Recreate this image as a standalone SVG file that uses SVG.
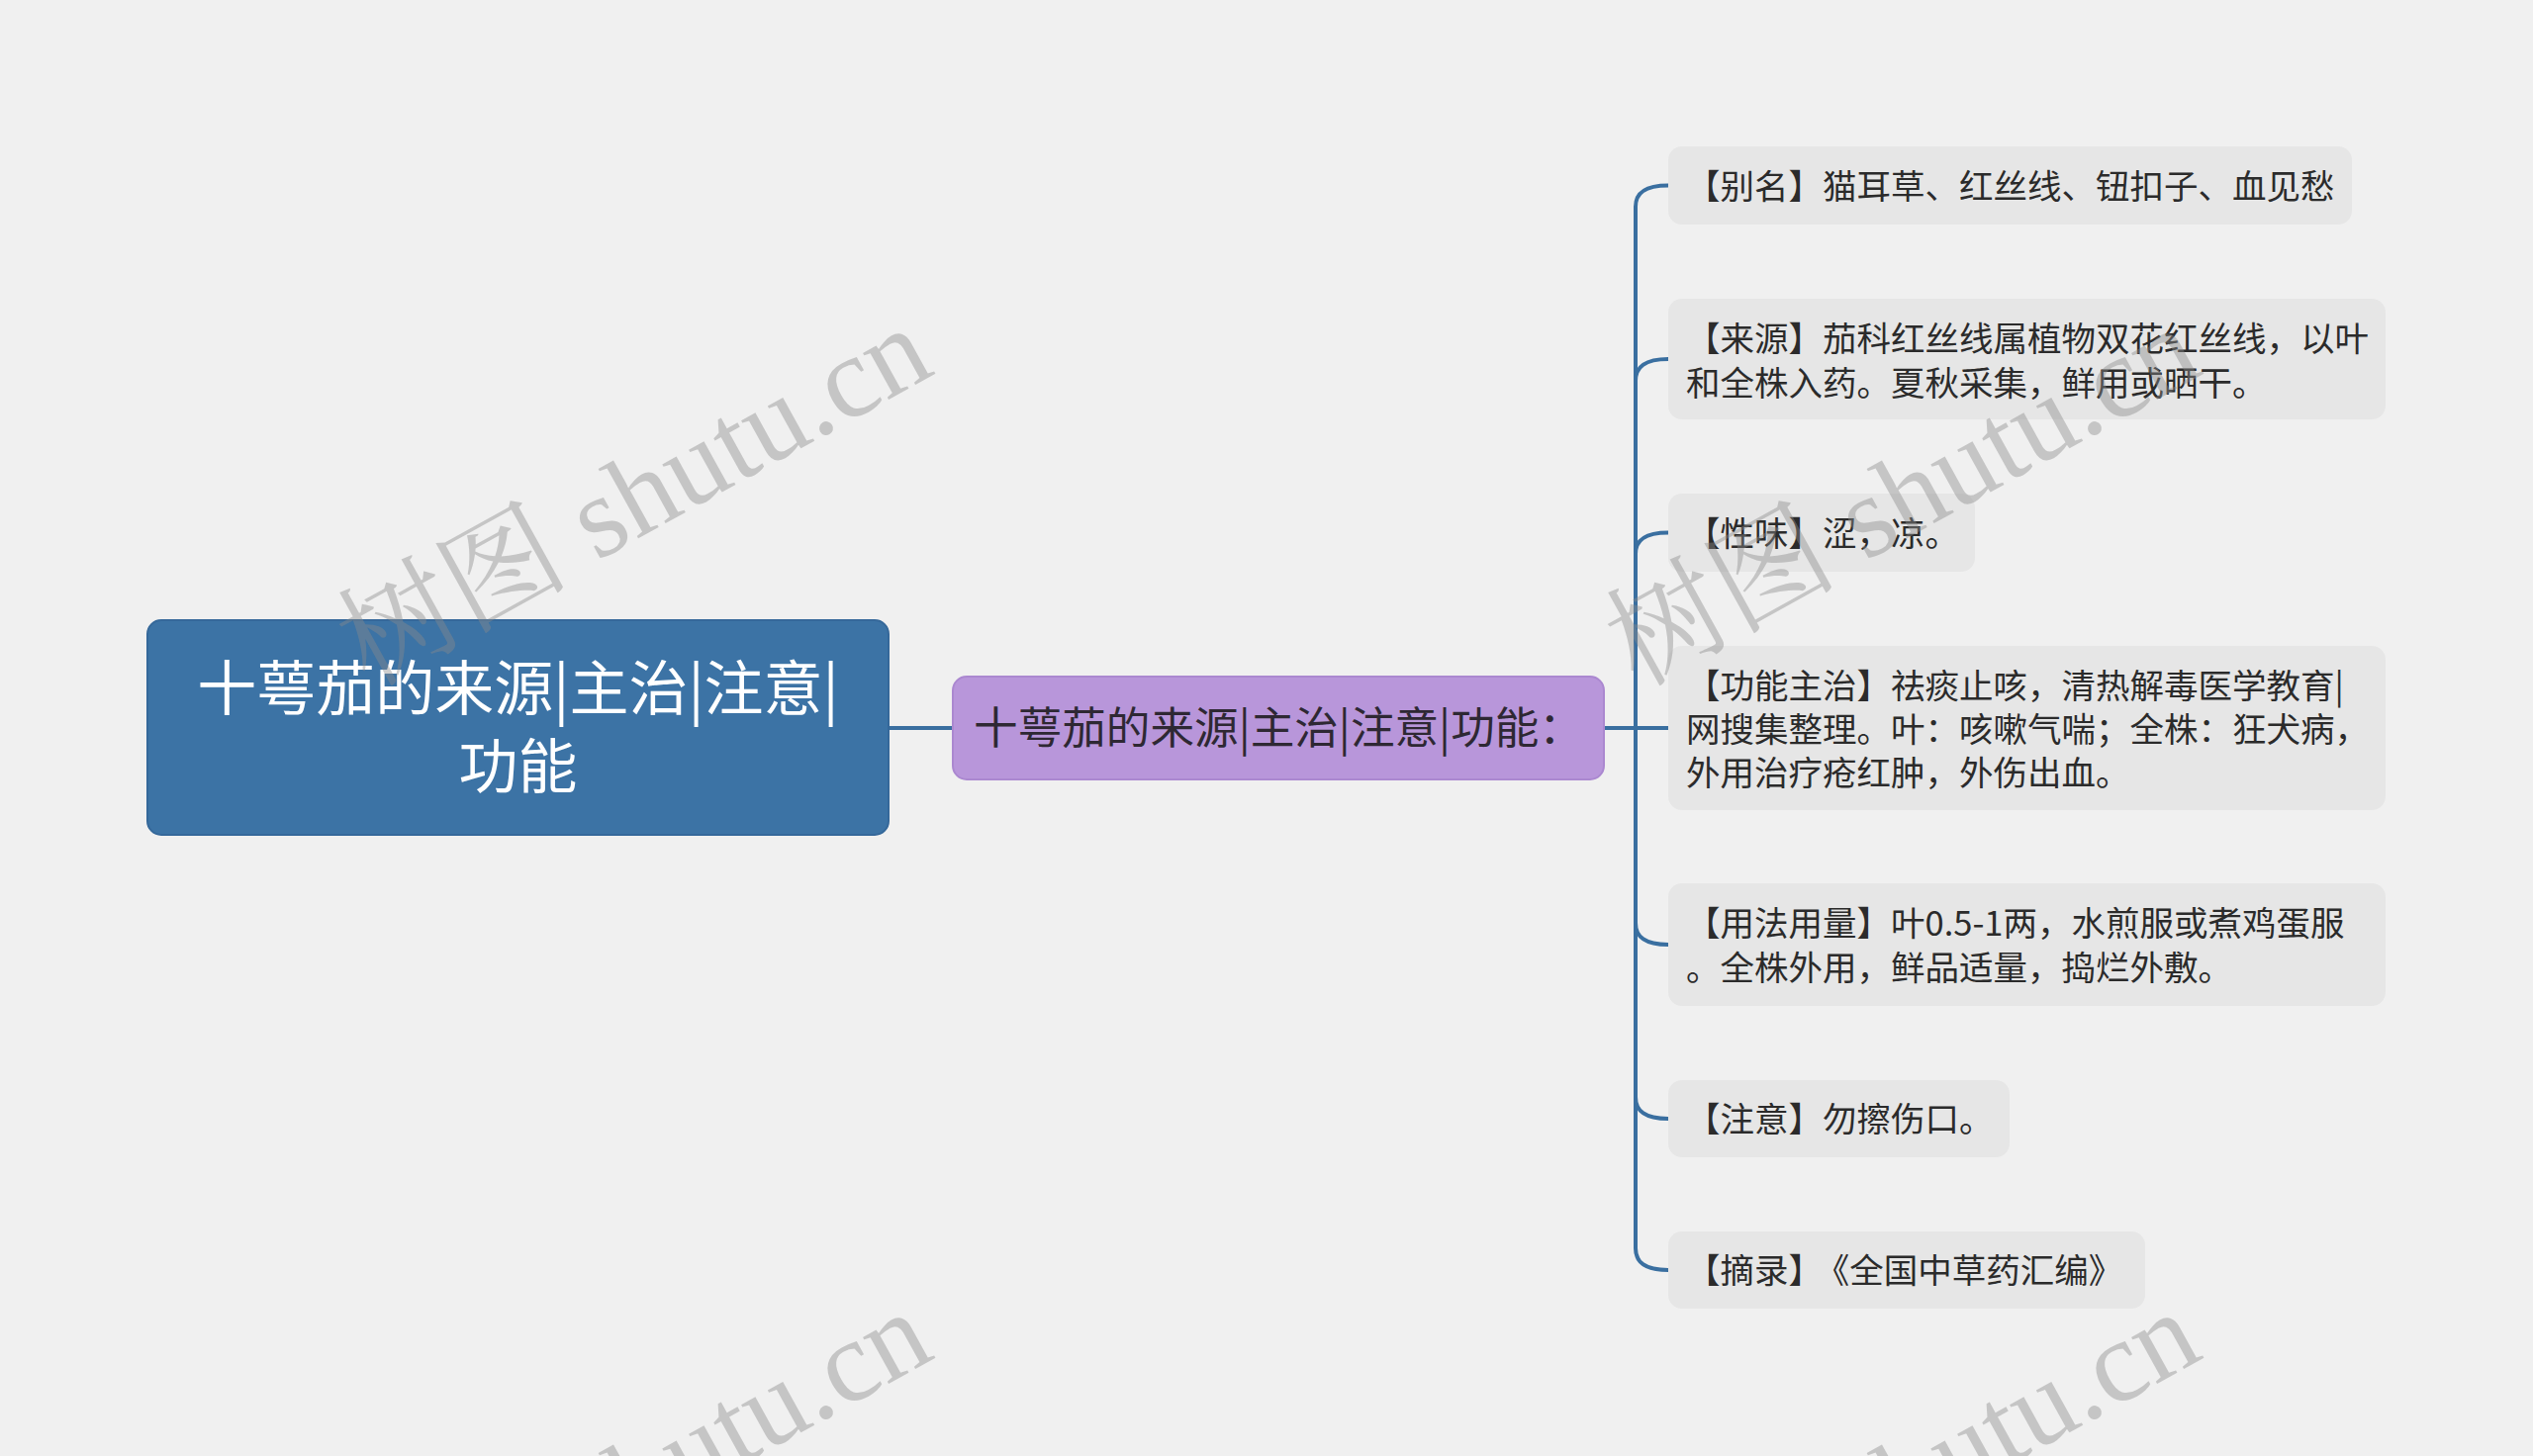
<svg xmlns="http://www.w3.org/2000/svg" width="2560" height="1472" viewBox="0 0 2560 1472">
<defs>
<style>
.bg{fill:#f0f0f0}
.root rect{fill:#3c73a5;stroke:#35689a;stroke-width:2}
.root text{fill:#ffffff;font-family:'Noto Sans CJK SC','Microsoft YaHei',sans-serif;font-size:60px;text-anchor:middle}
.mid rect{fill:#b896da;stroke:#ab88d0;stroke-width:2}
.mid text{fill:#2e2833;font-family:'Noto Sans CJK SC','Microsoft YaHei',sans-serif;font-size:44.6px;text-anchor:middle}
.leaf rect{fill:#e6e6e6}
.leaf text{fill:#2b2b2b;font-family:'Noto Sans CJK SC','Microsoft YaHei',sans-serif;font-size:34.5px}
.conn path{fill:none;stroke:#3a6fa0;stroke-width:4}
.wm{fill:#8a8a8a;fill-opacity:0.42;font-family:'Liberation Serif','Noto Serif CJK SC','Noto Sans CJK SC',serif;font-size:117px;text-anchor:end}
</style>
</defs>
<rect class="bg" x="0" y="0" width="2560" height="1472"/>
<g id="connectors" class="conn">
<path d="M898,736 H963"/>
<path d="M1621,736 H1686"/>
<path d="M1653,736 V209 C1653,195 1662,187.5 1686,187.5"/>
<path d="M1653,736 V385 C1653,371 1662,363 1686,363"/>
<path d="M1653,736 V560 C1653,546 1662,538.5 1686,538.5"/>
<path d="M1653,736 V933 C1653,947 1662,955 1686,955"/>
<path d="M1653,736 V1109 C1653,1123 1662,1131 1686,1131"/>
<path d="M1653,736 V1262 C1653,1276 1662,1284 1686,1284"/>
</g>
<g id="root" class="root">
<rect x="149" y="627" width="749" height="217" rx="14"/>
<text x="523.5" y="718">十萼茄的来源|主治|注意|</text>
<text x="523.5" y="797">功能</text>
</g>
<g id="mid" class="mid">
<rect x="963" y="684" width="658" height="104" rx="14"/>
<text x="1292" y="752">十萼茄的来源|主治|注意|功能：</text>
</g>
<g id="leaf1" class="leaf">
<rect x="1686" y="148" width="691" height="79" rx="14"/>
<text x="1704" y="200.5">【别名】猫耳草、红丝线、钮扣子、血见愁</text>
</g>
<g id="leaf2" class="leaf">
<rect x="1686" y="302" width="725" height="122" rx="14"/>
<text x="1704" y="354.5">【来源】茄科红丝线属植物双花红丝线，以叶</text>
<text x="1704" y="399.5">和全株入药。夏秋采集，鲜用或晒干。</text>
</g>
<g id="leaf3" class="leaf">
<rect x="1686" y="499" width="310" height="79" rx="14"/>
<text x="1704" y="551.5">【性味】涩，凉。</text>
</g>
<g id="leaf4" class="leaf">
<rect x="1686" y="653" width="725" height="166" rx="14"/>
<text x="1704" y="706">【功能主治】祛痰止咳，清热解毒医学教育|</text>
<text x="1704" y="750">网搜集整理。叶：咳嗽气喘；全株：狂犬病，</text>
<text x="1704" y="794">外用治疗疮红肿，外伤出血。</text>
</g>
<g id="leaf5" class="leaf">
<rect x="1686" y="893" width="725" height="124" rx="14"/>
<text x="1704" y="946">【用法用量】叶0.5-1两，水煎服或煮鸡蛋服</text>
<text x="1704" y="991">。全株外用，鲜品适量，捣烂外敷。</text>
</g>
<g id="leaf6" class="leaf">
<rect x="1686" y="1092" width="345" height="78" rx="14"/>
<text x="1704" y="1144">【注意】勿擦伤口。</text>
</g>
<g id="leaf7" class="leaf">
<rect x="1686" y="1245" width="482" height="78" rx="14"/>
<text x="1704" y="1297">【摘录】<tspan dx="10">《全国中草药汇编》</tspan></text>
</g>
<g id="watermarks">
<text class="wm" transform="translate(947,377) rotate(-29)">树图 shutu.cn</text>
<text class="wm" transform="translate(2229,377) rotate(-29)">树图 shutu.cn</text>
<text class="wm" transform="translate(947,1372) rotate(-29)">树图 shutu.cn</text>
<text class="wm" transform="translate(2229,1372) rotate(-29)">树图 shutu.cn</text>
</g>
</svg>
